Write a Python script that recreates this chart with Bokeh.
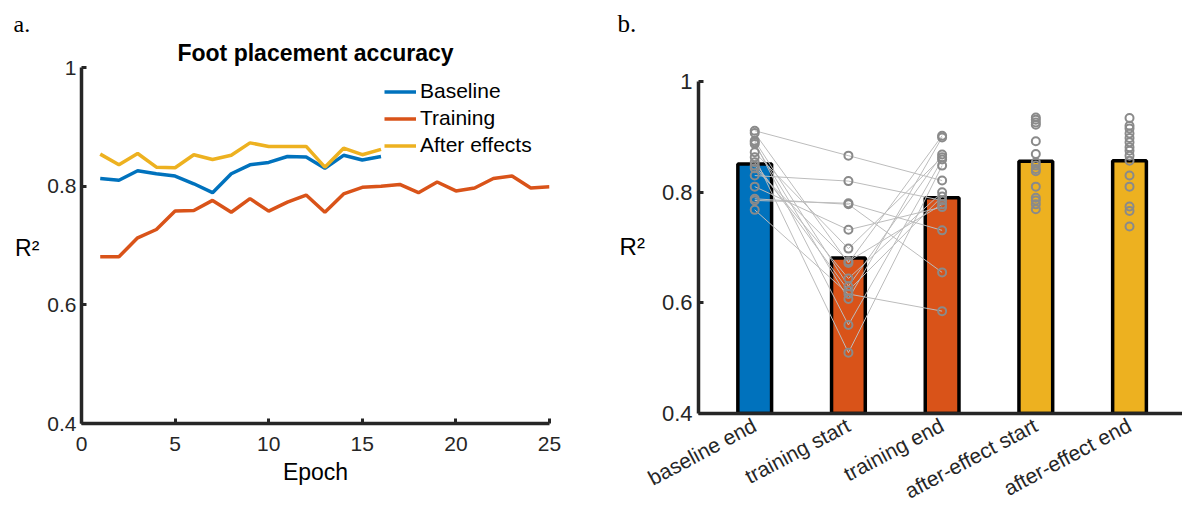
import math
from bokeh.plotting import figure
from bokeh.models import Range1d, FixedTicker, Legend, LegendItem, Label
from bokeh.layouts import row, column
from bokeh.embed import file_html
from bokeh.resources import INLINE

# ---------------- Panel a data ----------------
epochs_short = list(range(1, 17))
epochs_long = list(range(1, 26))
baseline_r2 = [0.813, 0.810, 0.826, 0.821, 0.817, 0.804, 0.789, 0.821,
               0.836, 0.840, 0.850, 0.849, 0.830, 0.852, 0.844, 0.850]
training_r2 = [0.681, 0.681, 0.713, 0.727, 0.758, 0.759, 0.776, 0.756,
               0.779, 0.758, 0.773, 0.785, 0.756, 0.787, 0.798, 0.800,
               0.803, 0.789, 0.807, 0.792, 0.797, 0.813, 0.817, 0.797, 0.799]
after_r2 = [0.854, 0.836, 0.855, 0.832, 0.831, 0.853, 0.845, 0.852,
            0.873, 0.867, 0.867, 0.867, 0.832, 0.864, 0.853, 0.862]
series_names = ["Baseline", "Training", "After effects"]
a_xticks = [0, 5, 10, 15, 20, 25]
yticks = [0.4, 0.6, 0.8, 1.0]
ytick_labels = ["0.4", "0.6", "0.8", "1"]

# ---------------- Panel b data ----------------
conditions = ["baseline end", "training start", "training end",
              "after-effect start", "after-effect end"]
cond_pos = [1, 2, 3, 4, 5]
bar_means = [0.851, 0.681, 0.790, 0.856, 0.857]
subj_baseline_end = [0.911, 0.907, 0.893, 0.890, 0.887, 0.872, 0.863, 0.854,
                     0.848, 0.843, 0.830, 0.810, 0.788, 0.785, 0.768]
subj_training_start = [0.866, 0.672, 0.630, 0.560, 0.607, 0.698, 0.510, 0.622,
                       0.644, 0.675, 0.820, 0.732, 0.778, 0.780, 0.616]
subj_training_end = [0.821, 0.902, 0.868, 0.859, 0.899, 0.863, 0.848, 0.792,
                     0.800, 0.778, 0.785, 0.773, 0.655, 0.731, 0.585]
subj_after_start = [0.935, 0.931, 0.926, 0.922, 0.892, 0.869, 0.854, 0.848,
                    0.842, 0.838, 0.810, 0.790, 0.785, 0.778, 0.769]
subj_after_end = [0.934, 0.920, 0.915, 0.906, 0.898, 0.890, 0.881, 0.875,
                  0.866, 0.857, 0.830, 0.810, 0.774, 0.766, 0.738]

# ---------------- Styles ----------------
FONT = "Liberation Sans"
SERIF = "Liberation Serif"
AX = "#262626"
BLUE, ORANGE, YELLOW = "#0072BD", "#D95319", "#EDB120"
bar_colors = [BLUE, ORANGE, ORANGE, YELLOW, YELLOW]


def style_axes(p, fs):
    for ax in (p.xaxis[0], p.yaxis[0]):
        ax.axis_line_width = 3.5
        ax.axis_line_color = AX
        ax.major_tick_line_width = 3
        ax.major_tick_line_color = AX
        ax.major_tick_in = 5
        ax.major_tick_out = 0
        ax.minor_tick_line_color = None
        ax.major_label_text_font = FONT
        ax.major_label_text_font_size = fs
        ax.major_label_text_color = AX
        ax.axis_label_text_font = FONT
        ax.axis_label_text_font_style = "normal"
        ax.axis_label_text_color = "black"
    try:
        p.yaxis[0].axis_label_orientation = "horizontal"
    except Exception:
        pass
    p.yaxis[0].bounds = (0.4, 1.0)
    p.xgrid.visible = False
    p.ygrid.visible = False
    p.outline_line_color = None


def style_panel_letter(p, letter, offset, size, standoff):
    p.title.text = letter
    p.title.align = "left"
    p.title.offset = offset
    p.title.text_font = SERIF
    p.title.text_font_size = size
    p.title.text_font_style = "normal"
    p.title.text_color = "black"
    p.title.standoff = standoff


# ---------------- Panel a ----------------
# frame: x 0..25 -> px 81..549 ; y 0.4 at px 423, 1.0 at px 67 (frame extends up to px 36)
pa = figure(width=592, height=515, x_range=Range1d(0, 25),
            y_range=Range1d(0.4, 1.0 + 31 / 593.3),
            output_backend="svg", toolbar_location=None,
            min_border_left=81, min_border_right=43, min_border_top=36, min_border_bottom=92)
style_axes(pa, "21px")
style_panel_letter(pa, "a.", -68, "24px", 0)

pa.xaxis.ticker = FixedTicker(ticks=a_xticks)
pa.yaxis.ticker = FixedTicker(ticks=yticks)
pa.yaxis.major_label_overrides = {t: s for t, s in zip(yticks, ytick_labels)}
pa.xaxis.axis_label = "Epoch"
pa.xaxis.axis_label_text_font_size = "23px"
pa.xaxis.major_label_standoff = 13
pa.xaxis.axis_label_standoff = 5
pa.yaxis.major_label_standoff = 5
pa.yaxis.axis_label = "\nR²"
pa.yaxis.axis_label_text_font_size = "23px"
pa.yaxis.axis_label_text_line_height = 1.35
pa.yaxis.axis_label_standoff = 5

r_base = pa.line(epochs_short, baseline_r2, line_color=BLUE, line_width=3.5)
r_train = pa.line(epochs_long, training_r2, line_color=ORANGE, line_width=3.5)
r_after = pa.line(epochs_short, after_r2, line_color=YELLOW, line_width=3.5)

legend = Legend(items=[LegendItem(label=series_names[0], renderers=[r_base]),
                       LegendItem(label=series_names[1], renderers=[r_train]),
                       LegendItem(label=series_names[2], renderers=[r_after])],
                location=(303, 266), padding=0, margin=0, spacing=3,
                glyph_width=32, glyph_height=21, label_height=21, label_standoff=4,
                label_text_font=FONT, label_text_font_size="21px", label_text_color="black",
                border_line_color=None, background_fill_alpha=0)
pa.add_layout(legend, "center")

pa.add_layout(Label(x=234, y=371, x_units="screen", y_units="screen",
                    text="Foot placement accuracy", text_font=FONT, text_font_size="23px",
                    text_font_style="bold", text_align="center", text_color="black",
                    text_baseline="alphabetic"))

# ---------------- Panel b ----------------
# frame: x 0.4 at px 698 (93.7 px per bar); y 0.4 at px 413, 1.0 at px 81 (frame up to px 40)
pb = figure(width=590, height=515, x_range=Range1d(0.4, 0.4 + 484 / 93.7),
            y_range=Range1d(0.4, 1.0 + 41 / 553.3), output_backend="svg",
            toolbar_location=None,
            min_border_left=106, min_border_right=0, min_border_top=40, min_border_bottom=102)
style_axes(pb, "22px")
style_panel_letter(pb, "b.", -81, "25px", 8)

pb.xaxis.ticker = FixedTicker(ticks=cond_pos)
pb.xaxis.major_label_overrides = {c: s for c, s in zip(cond_pos, conditions)}
pb.xaxis.major_label_orientation = 28 * math.pi / 180
pb.xaxis.major_label_text_font_size = "21px"
pb.xaxis.major_label_standoff = 10
pb.xaxis.major_tick_in = 0
pb.yaxis.ticker = FixedTicker(ticks=yticks)
pb.yaxis.major_label_overrides = {t: s for t, s in zip(yticks, ytick_labels)}
pb.yaxis.major_label_standoff = 6
pb.yaxis.axis_label = "\nR²"
pb.yaxis.axis_label_text_font_size = "24px"
pb.yaxis.axis_label_text_line_height = 1.42
pb.yaxis.axis_label_standoff = 14

pb.vbar(x=cond_pos, top=bar_means, bottom=0.4, width=0.36, fill_color=bar_colors,
        line_color="black", line_width=3.5)

xs = [[1, 2, 3] for _ in subj_baseline_end]
ys = [[b, t, e] for b, t, e in zip(subj_baseline_end, subj_training_start, subj_training_end)]
pb.multi_line(xs=xs, ys=ys, line_color="#bcbcbc", line_width=1)

all_groups = [subj_baseline_end, subj_training_start, subj_training_end,
              subj_after_start, subj_after_end]
px, py = [], []
for pos, grp in zip(cond_pos, all_groups):
    px += [pos] * len(grp)
    py += grp
pb.scatter(px, py, marker="circle", size=8, fill_color=None,
           line_color="#8a8a8a", line_width=2)

layout = row(column(pa), column(pb))
open("out.html", "w").write(file_html(layout, INLINE))
